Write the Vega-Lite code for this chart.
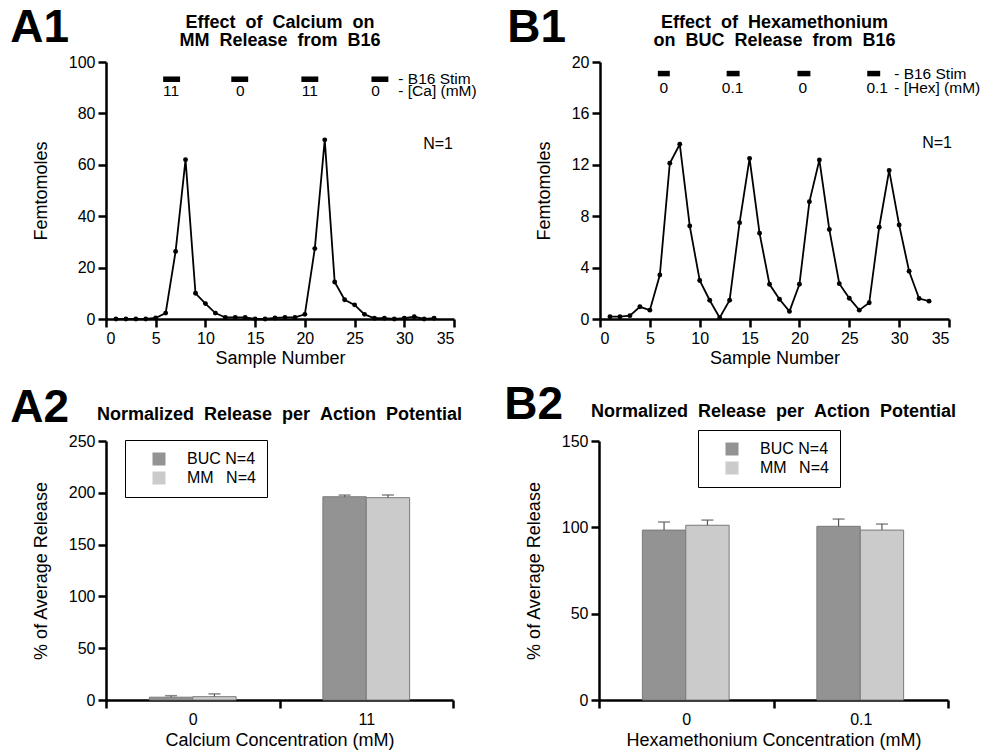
{
  "$schema": "https://vega.github.io/schema/vega-lite/v6.json",
  "padding": {"left": 10, "top": 4, "right": 5, "bottom": 2},
  "config": {
    "font": "Liberation Sans",
    "view": {"stroke": null},
    "axis": {"domainColor": "black", "domainWidth": 2.5, "tickColor": "black", "tickWidth": 2.5, "tickSize": 8, "labelColor": "black", "labelFontSize": 16, "labelPadding": 3, "titleFontSize": 18, "titleFontWeight": "normal", "titleColor": "black", "grid": false},
    "axisX": {"titlePadding": 3},
    "axisY": {"titlePadding": 18},
    "title": {"color": "black", "font": "Liberation Sans"},
    "text": {"font": "Liberation Sans", "color": "black"}
  },
  "resolve": {"scale": {"color": "independent"}, "legend": {"color": "independent"}},
  "spacing": 14,
  "vconcat": [
    {
      "spacing": 30,
      "resolve": {"scale": {"color": "independent"}, "legend": {"color": "independent"}},
      "hconcat": [
        {
          "title": {"text": "A1", "fontSize": 46, "fontWeight": "bold", "anchor": "start", "dx": -22, "dy": 42},
          "vconcat": [
            {
              "width": 348, "height": 257,
              "title": {"text": ["Effect \u00a0of \u00a0Calcium \u00a0on", "MM \u00a0Release \u00a0from \u00a0B16"], "fontSize": 18, "fontWeight": "bold", "anchor": "middle", "frame": "group", "lineHeight": 18.5, "offset": 4},
              "layer": [
                {
                  "data": {"values": [
                    {"s": 1, "v": 0}, {"s": 2, "v": 0}, {"s": 3, "v": 0}, {"s": 4, "v": 0}, {"s": 5, "v": 0.4},
                    {"s": 6, "v": 2.3}, {"s": 7, "v": 26.3}, {"s": 8, "v": 62}, {"s": 9, "v": 10}, {"s": 10, "v": 6},
                    {"s": 11, "v": 2.3}, {"s": 12, "v": 0.6}, {"s": 13, "v": 0.6}, {"s": 14, "v": 0.6}, {"s": 15, "v": 0},
                    {"s": 16, "v": 0}, {"s": 17, "v": 0.4}, {"s": 18, "v": 0.6}, {"s": 19, "v": 0.6}, {"s": 20, "v": 1.8},
                    {"s": 21, "v": 27.4}, {"s": 22, "v": 69.7}, {"s": 23, "v": 14.4}, {"s": 24, "v": 7.5}, {"s": 25, "v": 5.5},
                    {"s": 26, "v": 1.8}, {"s": 27, "v": 0.3}, {"s": 28, "v": 0.3}, {"s": 29, "v": 0}, {"s": 30, "v": 0.3},
                    {"s": 31, "v": 0.9}, {"s": 32, "v": 0}, {"s": 33, "v": 0.3}
                  ]},
                  "mark": {"type": "line", "color": "black", "strokeWidth": 1.8, "point": {"filled": true, "color": "black", "size": 24}},
                  "encoding": {
                    "x": {"field": "s", "type": "quantitative", "scale": {"domain": [0, 35], "nice": false}, "axis": {"values": [0, 5, 10, 15, 20, 25, 30, 35], "title": "Sample Number"}},
                    "y": {"field": "v", "type": "quantitative", "scale": {"domain": [0, 100], "nice": false}, "axis": {"values": [0, 20, 40, 60, 80, 100], "title": "Femtomoles"}}
                  }
                },
                {
                  "data": {"values": [
                    {"x0": 5.75, "x1": 7.45, "y": 93.3}, {"x0": 12.6, "x1": 14.3, "y": 93.3},
                    {"x0": 19.65, "x1": 21.35, "y": 93.3}, {"x0": 26.7, "x1": 28.4, "y": 93.3}
                  ]},
                  "mark": {"type": "rule", "color": "black", "strokeWidth": 5.5},
                  "encoding": {"x": {"field": "x0", "type": "quantitative"}, "x2": {"field": "x1"}, "y": {"field": "y", "type": "quantitative"}}
                },
                {
                  "data": {"values": [
                    {"x": 6.55, "y": 88.6, "t": "11"}, {"x": 13.5, "y": 88.6, "t": "0"},
                    {"x": 20.5, "y": 88.6, "t": "11"}, {"x": 27.1, "y": 88.6, "t": "0"}
                  ]},
                  "mark": {"type": "text", "fontSize": 15.5, "align": "center", "baseline": "middle"},
                  "encoding": {"x": {"field": "x", "type": "quantitative"}, "y": {"field": "y", "type": "quantitative"}, "text": {"field": "t"}}
                },
                {
                  "data": {"values": [
                    {"x": 29.4, "y": 93.3, "t": "- B16 Stim"}, {"x": 29.4, "y": 88.6, "t": "- [Ca] (mM)"}
                  ]},
                  "mark": {"type": "text", "fontSize": 15.5, "align": "left", "baseline": "middle"},
                  "encoding": {"x": {"field": "x", "type": "quantitative"}, "y": {"field": "y", "type": "quantitative"}, "text": {"field": "t"}}
                },
                {
                  "data": {"values": [{"x": 34.9, "y": 68, "t": "N=1"}]},
                  "mark": {"type": "text", "fontSize": 16, "align": "right", "baseline": "middle"},
                  "encoding": {"x": {"field": "x", "type": "quantitative"}, "y": {"field": "y", "type": "quantitative"}, "text": {"field": "t"}}
                }
              ]
            }
          ]
        },
        {
          "title": {"text": "B1", "fontSize": 46, "fontWeight": "bold", "anchor": "start", "dx": -28, "dy": 42},
          "vconcat": [
            {
              "width": 349, "height": 257,
              "title": {"text": ["Effect \u00a0of \u00a0Hexamethonium", "on \u00a0BUC \u00a0Release \u00a0from \u00a0B16"], "fontSize": 18, "fontWeight": "bold", "anchor": "middle", "frame": "group", "lineHeight": 18.5, "offset": 4},
              "layer": [
                {
                  "data": {"values": [
                    {"s": 1, "v": 0.18}, {"s": 2, "v": 0.18}, {"s": 3, "v": 0.26}, {"s": 4, "v": 0.95}, {"s": 5, "v": 0.69},
                    {"s": 6, "v": 3.42}, {"s": 7, "v": 12.12}, {"s": 8, "v": 13.6}, {"s": 9, "v": 7.24}, {"s": 10, "v": 3.0},
                    {"s": 11, "v": 1.46}, {"s": 12, "v": 0.1}, {"s": 13, "v": 1.46}, {"s": 14, "v": 7.5}, {"s": 15, "v": 12.5},
                    {"s": 16, "v": 6.68}, {"s": 17, "v": 2.7}, {"s": 18, "v": 1.54}, {"s": 19, "v": 0.59}, {"s": 20, "v": 2.7},
                    {"s": 21, "v": 9.12}, {"s": 22, "v": 12.38}, {"s": 23, "v": 6.96}, {"s": 24, "v": 2.75}, {"s": 25, "v": 1.62},
                    {"s": 26, "v": 0.69}, {"s": 27, "v": 1.26}, {"s": 28, "v": 7.14}, {"s": 29, "v": 11.56}, {"s": 30, "v": 7.32},
                    {"s": 31, "v": 3.72}, {"s": 32, "v": 1.59}, {"s": 33, "v": 1.39}
                  ]},
                  "mark": {"type": "line", "color": "black", "strokeWidth": 1.8, "point": {"filled": true, "color": "black", "size": 24}},
                  "encoding": {
                    "x": {"field": "s", "type": "quantitative", "scale": {"domain": [0, 35], "nice": false}, "axis": {"values": [0, 5, 10, 15, 20, 25, 30, 35], "title": "Sample Number"}},
                    "y": {"field": "v", "type": "quantitative", "scale": {"domain": [0, 20], "nice": false}, "axis": {"values": [0, 4, 8, 12, 16, 20], "title": "Femtomoles"}}
                  }
                },
                {
                  "data": {"values": [
                    {"x0": 5.8, "x1": 7.0, "y": 19.1}, {"x0": 12.7, "x1": 14.0, "y": 19.1},
                    {"x0": 19.8, "x1": 21.1, "y": 19.1}, {"x0": 26.8, "x1": 28.1, "y": 19.1}
                  ]},
                  "mark": {"type": "rule", "color": "black", "strokeWidth": 5.5},
                  "encoding": {"x": {"field": "x0", "type": "quantitative"}, "x2": {"field": "x1"}, "y": {"field": "y", "type": "quantitative"}}
                },
                {
                  "data": {"values": [
                    {"x": 6.4, "y": 18.0, "t": "0"}, {"x": 13.3, "y": 18.0, "t": "0.1"},
                    {"x": 20.35, "y": 18.0, "t": "0"}, {"x": 27.8, "y": 18.0, "t": "0.1"}
                  ]},
                  "mark": {"type": "text", "fontSize": 15.5, "align": "center", "baseline": "middle"},
                  "encoding": {"x": {"field": "x", "type": "quantitative"}, "y": {"field": "y", "type": "quantitative"}, "text": {"field": "t"}}
                },
                {
                  "data": {"values": [
                    {"x": 29.5, "y": 19.1, "t": "- B16 Stim"}, {"x": 29.5, "y": 18.0, "t": "- [Hex] (mM)"}
                  ]},
                  "mark": {"type": "text", "fontSize": 15.5, "align": "left", "baseline": "middle"},
                  "encoding": {"x": {"field": "x", "type": "quantitative"}, "y": {"field": "y", "type": "quantitative"}, "text": {"field": "t"}}
                },
                {
                  "data": {"values": [{"x": 35.3, "y": 13.7, "t": "N=1"}]},
                  "mark": {"type": "text", "fontSize": 16, "align": "right", "baseline": "middle"},
                  "encoding": {"x": {"field": "x", "type": "quantitative"}, "y": {"field": "y", "type": "quantitative"}, "text": {"field": "t"}}
                }
              ]
            }
          ]
        }
      ]
    },
    {
      "spacing": 41,
      "resolve": {"scale": {"color": "independent"}, "legend": {"color": "independent"}},
      "hconcat": [
        {
          "title": {"text": "A2", "fontSize": 46, "fontWeight": "bold", "anchor": "start", "dx": -22, "dy": 30},
          "resolve": {"scale": {"color": "independent"}, "legend": {"color": "independent"}},
          "vconcat": [
            {
              "width": 347, "height": 259,
              "title": {"text": "Normalized \u00a0Release \u00a0per \u00a0Action \u00a0Potential", "fontSize": 18, "fontWeight": "bold", "anchor": "middle", "frame": "group", "offset": 9},
              "data": {"values": [
                {"conc": "0", "series": "BUC", "mean": 2.7, "upper": 4.2},
                {"conc": "0", "series": "MM", "mean": 3.2, "upper": 5.9},
                {"conc": "11", "series": "BUC", "mean": 196.2, "upper": 197.8},
                {"conc": "11", "series": "MM", "mean": 195.3, "upper": 197.9}
              ]},
              "encoding": {
                "x": {"field": "conc", "type": "nominal", "sort": ["0", "11"], "scale": {"paddingInner": 0, "paddingOuter": 0}, "axis": {"title": "Calcium Concentration (mM)", "labelAngle": 0, "tickBand": "extent", "labelPadding": 3, "titlePadding": 4}},
                "xOffset": {"field": "series", "type": "nominal", "scale": {"paddingOuter": 1, "paddingInner": 0}}
              },
              "layer": [
                {
                  "mark": {"type": "bar", "stroke": "#7a7a7a", "strokeWidth": 1},
                  "encoding": {
                    "y": {"field": "mean", "type": "quantitative", "scale": {"domain": [0, 250], "nice": false}, "axis": {"values": [0, 50, 100, 150, 200, 250], "title": "% of Average Release"}},
                    "color": {"field": "series", "type": "nominal", "scale": {"domain": ["BUC", "MM"], "range": ["#939393", "#cbcbcb"]},
                      "legend": {"orient": "none", "legendX": 19, "legendY": -1, "title": null, "direction": "vertical", "symbolType": "square", "symbolSize": 169, "symbolStrokeWidth": 0, "symbolOffset": 15, "labelFontSize": 16, "labelColor": "black", "labelOffset": 20, "rowPadding": 3, "padding": 11, "strokeColor": "black", "fillColor": "white",
                        "labelExpr": "datum.label == 'BUC' ? 'BUC N=4' : 'MM\u2002\u00a0N=4'",
                        "encode": {"legend": {"update": {"strokeWidth": {"value": 2}}}}}}
                  }
                },
                {
                  "mark": {"type": "rule", "color": "#555555", "strokeWidth": 1.2},
                  "encoding": {"y": {"field": "mean", "type": "quantitative"}, "y2": {"field": "upper"}}
                },
                {
                  "mark": {"type": "tick", "color": "#555555", "thickness": 1.5, "size": 12},
                  "encoding": {"y": {"field": "upper", "type": "quantitative"}}
                }
              ]
            }
          ]
        },
        {
          "title": {"text": "B2", "fontSize": 46, "fontWeight": "bold", "anchor": "start", "dx": -21, "dy": 30},
          "resolve": {"scale": {"color": "independent"}, "legend": {"color": "independent"}},
          "vconcat": [
            {
              "width": 349, "height": 259,
              "title": {"text": "Normalized \u00a0Release \u00a0per \u00a0Action \u00a0Potential", "fontSize": 18, "fontWeight": "bold", "anchor": "middle", "frame": "group", "offset": 9},
              "data": {"values": [
                {"conc": "0", "series": "BUC", "mean": 98.4, "upper": 103.1},
                {"conc": "0", "series": "MM", "mean": 101.2, "upper": 104.2},
                {"conc": "0.1", "series": "BUC", "mean": 100.6, "upper": 104.8},
                {"conc": "0.1", "series": "MM", "mean": 98.4, "upper": 101.9}
              ]},
              "encoding": {
                "x": {"field": "conc", "type": "nominal", "sort": ["0", "0.1"], "scale": {"paddingInner": 0, "paddingOuter": 0}, "axis": {"title": "Hexamethonium Concentration (mM)", "labelAngle": 0, "tickBand": "extent", "labelPadding": 3, "titlePadding": 4}},
                "xOffset": {"field": "series", "type": "nominal", "scale": {"paddingOuter": 1, "paddingInner": 0}}
              },
              "layer": [
                {
                  "mark": {"type": "bar", "stroke": "#7a7a7a", "strokeWidth": 1},
                  "encoding": {
                    "y": {"field": "mean", "type": "quantitative", "scale": {"domain": [0, 150], "nice": false}, "axis": {"values": [0, 50, 100, 150], "title": "% of Average Release"}},
                    "color": {"field": "series", "type": "nominal", "scale": {"domain": ["BUC", "MM"], "range": ["#939393", "#cbcbcb"]},
                      "legend": {"orient": "none", "legendX": 99, "legendY": -11, "title": null, "direction": "vertical", "symbolType": "square", "symbolSize": 169, "symbolStrokeWidth": 0, "symbolOffset": 15, "labelFontSize": 16, "labelColor": "black", "labelOffset": 20, "rowPadding": 3, "padding": 11, "strokeColor": "black", "fillColor": "white",
                        "labelExpr": "datum.label == 'BUC' ? 'BUC N=4' : 'MM\u2002\u00a0N=4'",
                        "encode": {"legend": {"update": {"strokeWidth": {"value": 2}}}}}}
                  }
                },
                {
                  "mark": {"type": "rule", "color": "#555555", "strokeWidth": 1.2},
                  "encoding": {"y": {"field": "mean", "type": "quantitative"}, "y2": {"field": "upper"}}
                },
                {
                  "mark": {"type": "tick", "color": "#555555", "thickness": 1.5, "size": 12},
                  "encoding": {"y": {"field": "upper", "type": "quantitative"}}
                }
              ]
            }
          ]
        }
      ]
    }
  ]
}
